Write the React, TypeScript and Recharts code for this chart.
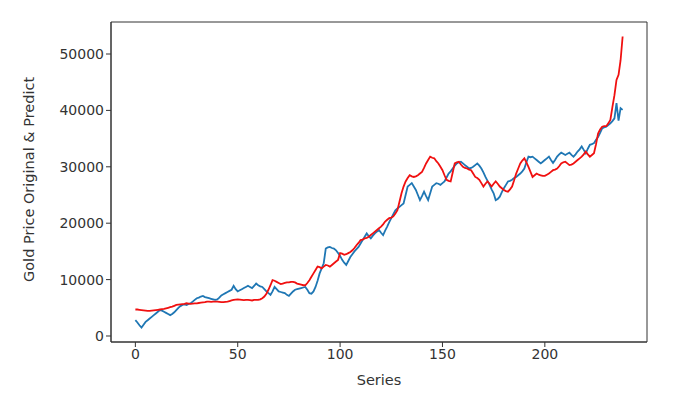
import React from 'react';
import { LineChart, Line, XAxis, YAxis, ReferenceArea } from 'recharts';

// Original gold price, index 0..238
const original = [
  2800, 2400, 1900, 1500, 2000, 2500, 2800, 3100, 3400, 3700,
  4000, 4300, 4600, 4500, 4300, 4100, 3900, 3700, 3900, 4200,
  4600, 5000, 5300, 5500, 5600, 5500, 5700, 5800, 6100, 6400,
  6700, 6800, 7000, 7100, 6900, 6800, 6700, 6600, 6500, 6400,
  6500, 6800, 7200, 7400, 7600, 7800, 8000, 8200, 8900, 8300,
  7900, 8100, 8300, 8500, 8700, 8900, 8700, 8500, 8900, 9300,
  9000, 8800, 8700, 8300, 7900, 7600, 7300, 7900, 8700, 8300,
  7900, 7800, 7700, 7600, 7300, 7100, 7500, 7900, 8200, 8300,
  8400, 8500, 8600, 8700, 8200, 7600, 7500, 7900, 8700, 9800,
  11100, 12000, 12900, 15500, 15700, 15800, 15600, 15500, 15200, 14700,
  14200, 13500, 13000, 12600, 13300, 14000, 14500, 15000, 15400, 15800,
  16400, 17000, 17600, 18200, 17700, 17300, 17800, 18200, 18500, 18800,
  18300, 17900, 18700, 19400, 20200, 20900, 21600, 22300, 22600, 22900,
  23200, 23500, 25000, 26500, 26800, 27100, 26500, 25900, 25000, 24100,
  24800, 25600, 24800, 24100, 25300, 26500, 26800, 27100, 27000, 26800,
  27100, 27400, 28100, 28800, 29200, 29700, 30200, 30600, 30800, 30900,
  30600, 30300, 30000, 29700, 29800, 30000, 30300, 30600, 30200, 29700,
  29000, 28200, 27500, 26800, 26000, 25300, 24100, 24300, 24700, 25500,
  26200, 26800, 27400, 27500, 27700, 28000, 28200, 28500, 28800, 29200,
  29700, 30800, 31800, 31700, 31800, 31500, 31200, 30900, 30600, 30900,
  31200, 31500, 31800, 31200, 30700, 31200, 31800, 32200, 32500, 32300,
  32100, 32300, 32500, 32100, 31800, 32200, 32700, 33100, 33600, 33000,
  32400, 33200, 33900, 34000, 34200, 34800, 35300, 36000, 36800, 37000,
  37100, 37400, 37700, 38100, 38600, 41300, 38200, 40400, 40100,
];

// Predicted gold price, index 0..238
const predict = [
  4700, 4700, 4650, 4600, 4550, 4500, 4450, 4450, 4500, 4550,
  4600, 4650, 4700, 4750, 4800, 4900, 5000, 5100, 5200, 5350,
  5500, 5550, 5600, 5650, 5700, 5800, 5750, 5700, 5750, 5800,
  5800, 5850, 5900, 5950, 6000, 6100, 6100, 6050, 6100, 6100,
  6100, 6050, 6000, 6000, 6050, 6100, 6200, 6300, 6400, 6450,
  6500, 6450, 6400, 6350, 6400, 6400, 6350, 6300, 6400, 6400,
  6400, 6500, 6700, 7000, 7500, 8200, 9000, 9900, 9800, 9600,
  9400, 9200, 9300, 9400, 9500, 9500, 9600, 9600, 9500, 9300,
  9200, 9100, 9000, 9000, 9400, 9900, 10500, 11100, 11700, 12300,
  12200, 12000, 12300, 12600, 12500, 12300, 12600, 12900, 13200, 13500,
  14700, 14600, 14400, 14500, 14700, 14900, 15200, 15600, 16100, 16500,
  17000, 17100, 17300, 17400, 17600, 17900, 18200, 18500, 18800, 19100,
  19400, 19800, 20300, 20600, 20900, 21000, 21200, 21700, 22300, 23800,
  25300, 26500, 27400, 28000, 28500, 28300, 28200, 28300, 28500, 28800,
  29100, 29800, 30600, 31200, 31800, 31600, 31500, 31000, 30600, 30000,
  29400, 28500, 27700, 27500, 27400, 29000, 30600, 30800, 30900, 30400,
  30000, 29800, 29700, 29500, 29400, 28800, 28200, 28000, 27700, 27100,
  26500, 27000, 27400, 27000, 26500, 27000, 27400, 27000, 26500, 26200,
  25900, 25700, 25600, 26000, 26500, 27600, 28800, 29700, 30600, 31100,
  31500, 30800, 30000, 29100, 28200, 28500, 28800, 28600, 28500, 28400,
  28400, 28600, 28800, 29100, 29400, 29500, 29700, 30100, 30600, 30800,
  30900, 30600, 30300, 30400, 30600, 30900, 31200, 31500, 31800, 32200,
  32700, 32200, 31800, 32100, 32400, 34000, 35900, 36600, 37100, 37200,
  37200, 37700, 38300, 40600, 42700, 45400, 46300, 48900, 53100,
];

const xTicks = [0, 50, 100, 150, 200];
const yTicks = [0, 10000, 20000, 30000, 40000, 50000];

const X_DOMAIN: [number, number] = [-11.9, 249.9];
const Y_DOMAIN: [number, number] = [-1064, 55674];

const data = original.map((v, i) => ({ idx: i, original: v, predict: predict[i] }));

const font = 'DejaVu Sans, sans-serif';
const tickStyle = { fontSize: 14, fill: '#333', fontFamily: font };
const labelStyle = { fontSize: 14.5, fill: '#333', fontFamily: font };

export default function App() {
  return (
    <div style={{ position: 'absolute', left: 0, top: 0, background: '#fff' }}>
      <LineChart
        width={678}
        height={398}
        data={data}
        margin={{ top: 22, right: 31, left: 51, bottom: 26 }}
      >
        <XAxis
          dataKey="idx"
          type="number"
          domain={X_DOMAIN}
          ticks={xTicks}
          allowDataOverflow
          height={30}
          stroke="#333"
          tickSize={5}
          tick={tickStyle}
          label={{ value: 'Series', position: 'insideBottom', offset: -13, style: labelStyle }}
        />
        <YAxis
          type="number"
          domain={Y_DOMAIN}
          ticks={yTicks}
          allowDataOverflow
          width={60}
          stroke="#333"
          tickSize={5}
          tick={tickStyle}
          label={{ value: 'Gold Price Original & Predict', angle: -90, position: 'insideLeft', offset: -22, dy: 100, style: labelStyle }}
        />
        {/* frame box like matplotlib spines */}
        <ReferenceArea
          x1={X_DOMAIN[0]}
          x2={X_DOMAIN[1]}
          y1={Y_DOMAIN[0]}
          y2={Y_DOMAIN[1]}
          fill="none"
          fillOpacity={0}
          stroke="#333"
          strokeOpacity={1}
          ifOverflow="extendDomain"
        />
        <Line type="linear" dataKey="original" stroke="#1f77b4" strokeWidth={1.8} dot={false} isAnimationActive={false} />
        <Line type="linear" dataKey="predict" stroke="#f01010" strokeWidth={1.8} dot={false} isAnimationActive={false} />
      </LineChart>
    </div>
  );
}
